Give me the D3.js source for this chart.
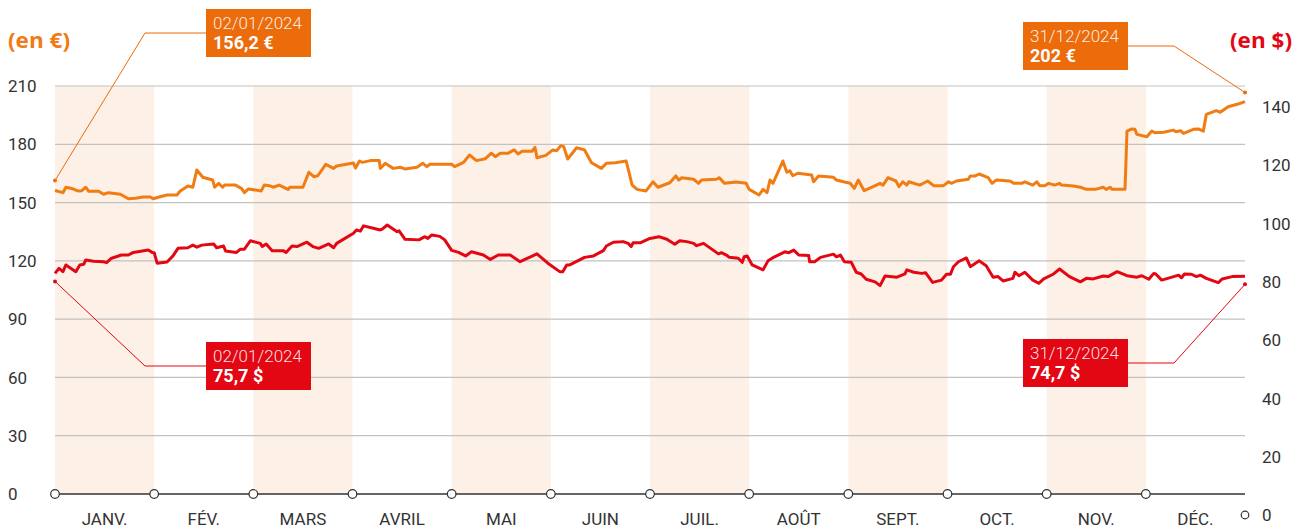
<!DOCTYPE html>
<html><head><meta charset="utf-8">
<script src="https://cdn.jsdelivr.net/npm/d3@7"></script>
<style>body{margin:0;background:#fff} svg{display:block;font-family:Roboto, "Noto Sans", sans-serif}</style>
</head><body><svg id="c" width="1304" height="529"></svg>
<script>
const months = ["JANV.","FÉV.","MARS","AVRIL","MAI","JUIN","JUIL.","AOÛT","SEPT.","OCT.","NOV.","DÉC."];
const leftTicks = [0,30,60,90,120,150,180,210];
const rightTicks = [0,20,40,60,80,100,120,140];

// time in months elapsed since 1 Jan 2024
const orangeT = [0,0.08,0.11,0.18,0.23,0.27,0.31,0.34,0.44,0.49,0.54,0.66,0.74,0.81,0.89,0.96,0.99,1.06,1.13,1.23,1.26,1.34,1.39,1.43,1.49,1.59,1.61,1.65,1.69,1.71,1.82,1.88,1.91,1.95,2.08,2.11,2.16,2.20,2.26,2.35,2.37,2.50,2.56,2.61,2.65,2.73,2.81,2.84,3.01,3.03,3.07,3.10,3.18,3.27,3.28,3.33,3.41,3.48,3.53,3.65,3.71,3.75,3.78,4.00,4.03,4.12,4.18,4.25,4.34,4.40,4.44,4.49,4.57,4.63,4.67,4.71,4.81,4.84,4.86,4.95,5.02,5.06,5.10,5.13,5.17,5.26,5.34,5.41,5.51,5.56,5.65,5.76,5.82,5.87,5.96,6.03,6.08,6.20,6.26,6.29,6.32,6.44,6.49,6.52,6.67,6.70,6.75,6.87,6.97,7.00,7.10,7.14,7.18,7.21,7.24,7.34,7.38,7.41,7.44,7.49,7.63,7.65,7.70,7.85,7.88,7.95,8.02,8.06,8.10,8.16,8.25,8.32,8.35,8.40,8.48,8.51,8.55,8.59,8.61,8.72,8.80,8.86,8.96,9.01,9.04,9.09,9.21,9.23,9.28,9.32,9.41,9.45,9.49,9.63,9.67,9.75,9.78,9.86,9.90,9.93,9.98,10.02,10.08,10.13,10.15,10.27,10.34,10.40,10.49,10.57,10.60,10.64,10.66,10.79,10.81,10.86,10.89,10.91,11.01,11.06,11.09,11.18,11.28,11.30,11.35,11.38,11.48,11.53,11.58,11.61,11.71,11.75,11.83,11.93,12];
// EUR series (left axis)
const orangeV = [156.2,155.1,157.9,157.1,156.0,156.1,157.9,155.8,155.8,154.3,155.1,154.3,152.0,152.2,152.9,152.9,152.0,153.0,153.9,153.9,155.8,158.5,157.9,166.8,163.0,161.6,157.9,159.9,157.9,159.0,159.0,157.3,155.1,157.0,156.0,159.0,158.7,157.9,159.0,156.8,157.9,157.9,165.6,163.3,163.8,169.7,167.6,168.8,170.4,167.8,171.4,170.7,171.6,171.6,167.6,170.2,167.6,168.2,167.3,168.2,170.2,168.5,169.7,169.7,168.5,170.7,174.5,171.6,172.6,175.4,173.6,175.4,175.4,177.1,175.0,176.4,176.4,178.4,173.1,174.3,177.1,176.7,179.3,178.8,172.4,178.2,177.1,170.5,167.6,170.2,170.5,171.4,159.0,156.8,156.0,160.7,157.9,160.2,163.7,161.6,162.8,162.0,159.9,161.6,162.0,162.8,159.9,160.6,159.9,156.8,153.9,156.8,155.1,161.6,159.9,171.4,165.6,166.4,163.8,165.1,164.2,160.7,163.7,163.0,161.6,160.7,159.9,157.3,161.6,156.1,158.2,159.9,159.0,162.8,161.1,158.2,160.7,159.0,160.7,159.0,161.1,158.7,158.7,160.7,159.9,161.1,162.0,163.7,163.7,164.7,162.8,159.9,161.6,161.1,159.9,159.9,160.7,159.0,160.7,158.7,158.7,159.9,159.0,159.9,159.0,158.5,157.9,156.8,156.8,157.9,156.8,157.9,156.8,156.8,186.8,187.9,187.7,185.1,183.9,186.8,186.0,186.2,187.3,186.5,187.0,185.6,187.7,187.9,186.8,195.4,197.3,196.5,199.3,200.7,202];

const redT = [0,0.04,0.08,0.11,0.21,0.25,0.29,0.31,0.39,0.49,0.52,0.57,0.67,0.74,0.79,0.94,0.98,1.00,1.03,1.13,1.19,1.24,1.34,1.39,1.43,1.48,1.60,1.63,1.70,1.72,1.83,1.87,1.91,1.97,2.07,2.09,2.13,2.19,2.30,2.33,2.39,2.44,2.54,2.60,2.66,2.76,2.81,2.84,3.01,3.04,3.08,3.11,3.21,3.28,3.30,3.35,3.45,3.47,3.53,3.67,3.73,3.76,3.80,3.88,3.93,4.00,4.07,4.14,4.20,4.32,4.39,4.47,4.59,4.69,4.86,4.97,5.09,5.12,5.16,5.19,5.34,5.43,5.53,5.56,5.63,5.73,5.78,5.81,5.83,5.90,6.00,6.09,6.17,6.25,6.30,6.37,6.44,6.47,6.54,6.69,6.72,6.77,6.80,6.89,6.93,6.95,6.98,7.03,7.14,7.19,7.24,7.36,7.40,7.45,7.50,7.60,7.61,7.66,7.72,7.85,7.88,7.92,7.96,8.03,8.08,8.13,8.18,8.27,8.32,8.37,8.49,8.54,8.57,8.59,8.66,8.74,8.78,8.85,8.94,8.99,9.03,9.06,9.11,9.19,9.23,9.32,9.39,9.46,9.51,9.56,9.66,9.68,9.72,9.78,9.86,9.92,9.97,10.07,10.13,10.23,10.34,10.40,10.47,10.57,10.62,10.71,10.81,10.91,10.96,11.03,11.08,11.10,11.16,11.28,11.33,11.36,11.39,11.46,11.51,11.55,11.61,11.73,11.77,11.87,12];
// USD series (right axis)
const redV = [75.7,77.4,76.3,78.6,76.3,78.6,78.8,80.3,79.9,79.7,79.4,80.9,82.0,82.0,82.9,83.7,82.9,82.8,79.2,79.6,81.7,84.3,84.5,85.4,84.7,85.4,85.8,84.5,85.1,83.4,82.9,84.0,84.0,86.9,86.0,84.9,85.8,83.5,83.5,82.9,85.1,84.9,86.4,84.9,84.3,85.8,84.5,86.0,89.5,90.6,90.2,92.0,91.2,90.6,90.9,92.3,90.0,90.3,87.4,87.2,88.3,87.7,88.9,88.4,87.2,83.6,82.9,81.7,83.1,82.0,80.5,82.0,82.0,79.7,82.4,79.2,76.3,76.3,78.6,78.6,81.2,81.7,83.5,85.1,86.4,86.6,86.0,84.9,86.2,86.2,87.7,88.3,87.4,85.7,86.9,86.6,86.0,85.2,86.0,82.4,82.8,82.0,81.2,80.9,79.5,81.4,81.7,78.6,76.9,80.0,81.1,83.1,82.8,83.7,82.0,81.8,79.7,79.7,81.2,82.3,81.4,82.0,79.7,79.5,76.1,75.5,73.7,72.8,71.5,74.8,74.4,75.1,75.5,76.9,76.1,75.7,75.9,72.6,73.4,75.4,75.4,78.0,79.7,81.0,78.0,80.0,78.3,74.4,74.6,73.1,74.0,76.1,74.9,76.1,73.4,72.3,73.8,75.5,77.2,74.6,72.8,74.0,73.8,74.8,74.6,76.3,74.9,74.4,74.9,73.7,75.7,75.5,73.4,74.6,75.1,74.2,75.5,75.4,74.6,75.1,74.0,72.5,73.8,74.6,74.7];

const annDates = ["02/01/2024","31/12/2024","02/01/2024","31/12/2024"];
const annValues = ["156,2 €","202 €","75,7 $","74,7 $"];

const ORANGE = "#ec6b0b", ORANGE_LINE = "#f07c12", RED = "#e30613";

const svg = d3.select("#c");
const x = d3.scaleLinear().domain([0,12]).range([55,1245]);
const yL = d3.scaleLinear().domain([0,210]).range([494,86]);
const yR = d3.scaleLinear().domain([0,140]).range([494,86]);

// shaded month bands
svg.append("g").selectAll("rect").data(months.map((m,i)=>i).filter(i=>i%2===0)).join("rect")
  .attr("x", i=>x(i)).attr("width", i=>x(i+1)-x(i))
  .attr("y", yL(210)).attr("height", yL(0)-yL(210))
  .attr("fill", "#fdf0e6");

// gridlines
svg.append("g").selectAll("line").data(leftTicks.filter(d=>d>0)).join("line")
  .attr("x1", x(0)).attr("x2", x(12))
  .attr("y1", d=>yL(d)).attr("y2", d=>yL(d))
  .attr("stroke", "#c2c2c2").attr("stroke-width", 1.2);

// left axis labels
svg.append("g").selectAll("text").data(leftTicks).join("text")
  .attr("x", 8).attr("y", d=>yL(d)).attr("dy","0.36em")
  .attr("font-size", 17).attr("fill", "#333").text(d=>d);

// right axis labels (drawn just below each gridline)
const rOff = 21;
svg.append("g").selectAll("text").data(rightTicks).join("text")
  .attr("x", 1262).attr("y", d=>yR(d)+rOff).attr("dy","0.36em")
  .attr("font-size", 17).attr("fill", "#333").text(d=>d);
svg.append("circle").attr("cx", x(12)).attr("cy", yR(0)+rOff).attr("r", 3.8)
  .attr("fill","#fff").attr("stroke","#333").attr("stroke-width",1.2);

// units
svg.append("text").attr("x", 8).attr("y", 48).attr("font-size", 21).attr("font-weight","bold")
  .attr("font-family","'Open Sans', Roboto, sans-serif")
  .attr("textLength", 62).attr("lengthAdjust","spacingAndGlyphs")
  .attr("fill", "#f07a14").text("(en €)");
svg.append("text").attr("x", 1230).attr("y", 48).attr("font-size", 21).attr("font-weight","bold")
  .attr("font-family","'Open Sans', Roboto, sans-serif")
  .attr("textLength", 62).attr("lengthAdjust","spacingAndGlyphs")
  .attr("fill", RED).text("(en $)");

// lines
const orangeData = orangeT.map((t,i)=>({t, v:orangeV[i]}));
const redData = redT.map((t,i)=>({t, v:redV[i]}));
svg.append("path").datum(orangeData)
  .attr("d", d3.line().x(d=>x(d.t)).y(d=>yL(d.v)))
  .attr("fill","none").attr("stroke", ORANGE_LINE).attr("stroke-width", 3).attr("stroke-linejoin","round");
svg.append("path").datum(redData)
  .attr("d", d3.line().x(d=>x(d.t)).y(d=>yR(d.v)))
  .attr("fill","none").attr("stroke", RED).attr("stroke-width", 3).attr("stroke-linejoin","round");

// baseline + month markers
svg.append("line").attr("x1", x(0)).attr("x2", x(12)).attr("y1", yL(0)).attr("y2", yL(0))
  .attr("stroke","#333").attr("stroke-width",1.5);
svg.append("g").selectAll("circle").data(d3.range(0,12)).join("circle")
  .attr("cx", d=>x(d)).attr("cy", yL(0)).attr("r", 4.3)
  .attr("fill","#fff").attr("stroke","#333").attr("stroke-width",1.2);
svg.append("g").selectAll("text").data(months).join("text")
  .attr("x", (d,i)=>x(i+0.5)).attr("y", 525).attr("text-anchor","middle")
  .attr("font-size", 17).attr("fill","#333").text(d=>d);

// annotations
const anns = [
  {t:0,  v:orangeV[0], y:yL, color:ORANGE, dy:-10, bx:206, by:9,   side:"left"},
  {t:12, v:orangeV[orangeV.length-1], y:yL, color:ORANGE, dy:-9, bx:1023, by:22, side:"right"},
  {t:0,  v:redV[0], y:yR, color:RED, dy:8, bx:206, by:342, side:"left"},
  {t:12, v:redV[redV.length-1], y:yR, color:RED, dy:8, bx:1023, by:339, side:"right"}
];
const BW = 105, BH = 48;
anns.forEach((a,i)=>{
  const px = x(a.t), py = a.y(a.v) + a.dy;
  const ly = a.by + BH/2;
  const ex = a.side==="left" ? a.bx : a.bx + BW;
  const kx = a.side==="left" ? 145 : 1174;
  svg.append("polyline").attr("points", `${ex},${ly} ${kx},${ly} ${px},${py}`)
    .attr("fill","none").attr("stroke", a.color).attr("stroke-width", 1);
  svg.append("circle").attr("cx", px).attr("cy", py).attr("r", 2).attr("fill", a.color);
  svg.append("rect").attr("x", a.bx).attr("y", a.by).attr("width", BW).attr("height", BH).attr("fill", a.color);
  svg.append("text").attr("x", a.bx+7).attr("y", a.by+20).attr("font-size", 17).attr("font-weight", 300)
    .attr("fill","#fff").attr("fill-opacity",0.9).text(annDates[i]);
  svg.append("text").attr("x", a.bx+7).attr("y", a.by+40).attr("font-size", 18).attr("font-weight", "bold")
    .attr("fill","#fff").text(annValues[i]);
});
</script></body></html>
